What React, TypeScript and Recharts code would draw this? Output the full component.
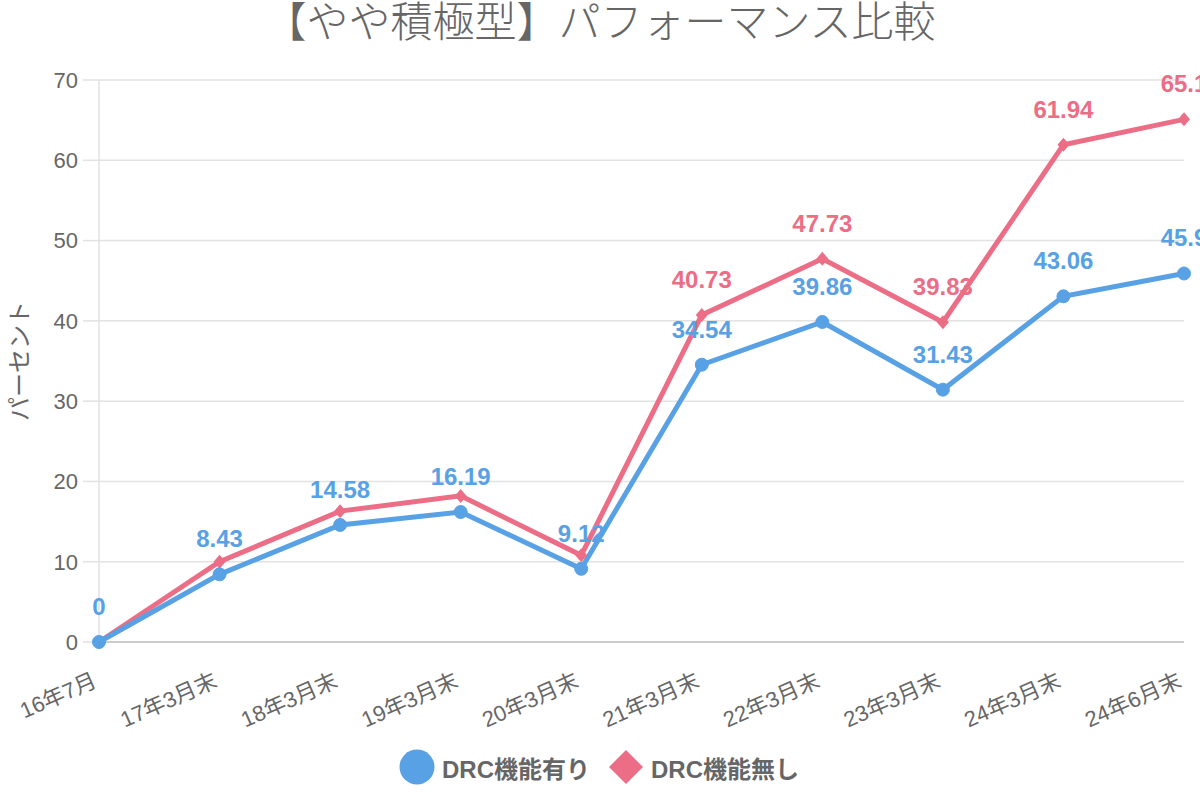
import React from 'react';
import { LineChart, Line, XAxis, YAxis, CartesianGrid, LabelList } from 'recharts';

const periods = ['16年7月', '17年3月末', '18年3月末', '19年3月末', '20年3月末', '21年3月末', '22年3月末', '23年3月末', '24年3月末', '24年6月末'];
const withDrc = [0, 8.43, 14.58, 16.19, 9.12, 34.54, 39.86, 31.43, 43.06, 45.9];
const withoutDrc = [0, 10.0, 16.3, 18.2, 10.8, 40.73, 47.73, 39.83, 61.94, 65.1];
// labels on the red series that are drawn (the others overlap and are hidden)
const withoutDrcLabelShown = [false, false, false, false, false, true, true, true, true, true];
const yTicks = [0, 10, 20, 30, 40, 50, 60, 70];

const BLUE = '#58a1e4';
const RED = '#ec6e86';
const GRAY = '#666666';
const FONT = "'Liberation Sans', Arial, 'Noto Sans CJK JP', sans-serif";

const data = periods.map((p, i) => ({ period: p, a: withDrc[i], b: withoutDrc[i] }));

const XTick = (props: any) => {
  const { x, y, payload } = props;
  const tx = x - 1;
  const ty = y + 36;
  return (
    <text x={tx} y={ty} textAnchor="end" fill={GRAY} fontSize={22} fontFamily={FONT}
      transform={`rotate(-24, ${tx}, ${ty})`}>
      {payload.value}
    </text>
  );
};

const Diamond = (props: any) => {
  const { cx, cy } = props;
  if (cx == null || cy == null) return null;
  return <polygon points={`${cx},${cy - 7} ${cx + 6},${cy} ${cx},${cy + 7} ${cx - 6},${cy}`} fill={RED} />;
};

const makeLabel = (color: string, shown?: boolean[]) => (props: any) => {
  const { x, y, value, index } = props;
  if (shown && !shown[index]) return null;
  return (
    <text x={x} y={y - 27} textAnchor="middle" fill={color} fontSize={24} fontWeight="bold" fontFamily={FONT}>
      {value}
    </text>
  );
};

const YLabel = (props: any) => {
  const { viewBox } = props;
  const cy = viewBox.y + viewBox.height / 2;
  return (
    <text x={28} y={cy} textAnchor="middle" fill={GRAY} fontSize={24} fontFamily={FONT}
      transform={`rotate(-90, 28, ${cy})`}>
      パーセント
    </text>
  );
};

export default function App() {
  return (
    <div style={{ position: 'absolute', left: 0, top: 0, width: 1200, height: 800, background: '#fff', fontFamily: FONT }}>
      <div style={{ position: 'absolute', top: -2, left: 0, width: 1200, textAlign: 'center', fontSize: 42, color: GRAY, lineHeight: '50px', fontWeight: 300 }}>
        【やや積極型】パフォーマンス比較
      </div>
      <LineChart width={1200} height={800} data={data} margin={{ top: 80, right: 16, bottom: 98, left: 0 }}>
        <CartesianGrid vertical={false} stroke="#e2e2e2" strokeWidth={1.5} />
        <XAxis dataKey="period" tick={<XTick />} tickLine={false} axisLine={{ stroke: '#cccccc', strokeWidth: 2 }} height={60} interval={0} />
        <YAxis width={99} domain={[0, 70]} ticks={yTicks} tickSize={16} tickMargin={5}
          tickLine={{ stroke: '#e2e2e2', strokeWidth: 1.5 }} axisLine={{ stroke: '#e2e2e2', strokeWidth: 1.5 }}
          tick={{ fill: GRAY, fontSize: 22, fontFamily: FONT }} label={<YLabel />} />
        <Line dataKey="b" name="DRC機能無し" stroke={RED} strokeWidth={5} dot={<Diamond />} isAnimationActive={false}>
          <LabelList dataKey="b" content={makeLabel(RED, withoutDrcLabelShown)} />
        </Line>
        <Line dataKey="a" name="DRC機能有り" stroke={BLUE} strokeWidth={5} dot={{ r: 6.5, fill: BLUE, stroke: BLUE, strokeWidth: 1 }} isAnimationActive={false}>
          <LabelList dataKey="a" content={makeLabel(BLUE)} />
        </Line>
      </LineChart>
      <div style={{ position: 'absolute', top: 749, left: -1, width: 1200, display: 'flex', justifyContent: 'center', alignItems: 'center', fontSize: 24, fontWeight: 'bold', color: GRAY }}>
        <svg width={36} height={36}><circle cx={18} cy={18} r={17.5} fill={BLUE} /></svg>
        <span style={{ marginLeft: 7, marginRight: 18 }}>DRC機能有り</span>
        <svg width={36} height={36}><polygon points="18,1 35,18 18,35 1,18" fill={RED} /></svg>
        <span style={{ marginLeft: 7 }}>DRC機能無し</span>
      </div>
    </div>
  );
}
